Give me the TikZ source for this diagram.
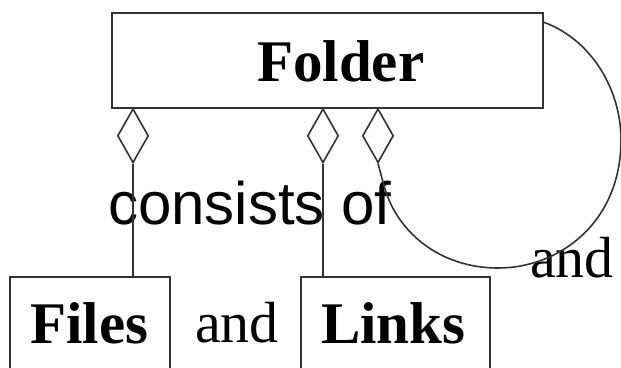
\documentclass[tikz,border=0pt]{standalone}
\usepackage{fontspec}
\setmainfont{Liberation Serif}
\newfontfamily\sansfnt{Liberation Sans}
\usetikzlibrary{shapes.geometric}
\begin{document}
\begin{tikzpicture}[x=1pt,y=-1pt,
  line/.style={draw=black!80,line width=1.6pt},
  box/.style={line,rectangle,inner sep=0pt},
  agg/.style={line,diamond,inner sep=0pt,minimum width=31pt,minimum height=54pt,fill=white},
  boldlbl/.style={inner sep=0pt,anchor=base west,font=\fontsize{59}{70}\selectfont\bfseries},
  plainlbl/.style={inner sep=0pt,anchor=base west,font=\fontsize{58}{70}\selectfont},
  sanslbl/.style={inner sep=0pt,anchor=base west,font=\fontsize{60}{72}\selectfont\sansfnt}]
\useasboundingbox (0,0) rectangle (621,367);
\clip (0,0) rectangle (621,367);
% boxes
\node[box,minimum width=431pt,minimum height=95pt] (folder) at (327.5,60.5) {};
\node[box,minimum width=160pt,minimum height=200pt] (files) at (90,377) {};
\node[box,minimum width=189pt,minimum height=200pt] (links) at (395.5,377) {};
% labels
\node[boldlbl] (folderlbl) at (257,81) {Folder};
\node[boldlbl] (fileslbl) at (30,343) {Files};
\node[boldlbl] (linkslbl) at (321,343) {Links};
\node[plainlbl] (and1) at (195,342) {and};
\node[plainlbl] (and2) at (530,277) {and};
\node[sanslbl] (consists) at (108,224) {consists of};
% aggregation diamonds
\node[agg,anchor=north] (d1) at (133,108) {};
\node[agg,anchor=north] (d2) at (323,108) {};
\node[agg,anchor=north] (d3) at (378,108) {};
% connectors
\draw[line] (d1.south) -- (d1.south |- files.north);
\draw[line] (d2.south) -- (d2.south |- links.north);
\coordinate (loopstart) at ([yshift=-10pt]folder.north east);
\draw[line] (loopstart) .. controls (592,40) and (621,90) .. (621,140)
  .. controls (621,222) and (560,268) .. (498,268)
  .. controls (440,268) and (395,232) .. (383,182) -- (d3.south);
\end{tikzpicture}
\end{document}
